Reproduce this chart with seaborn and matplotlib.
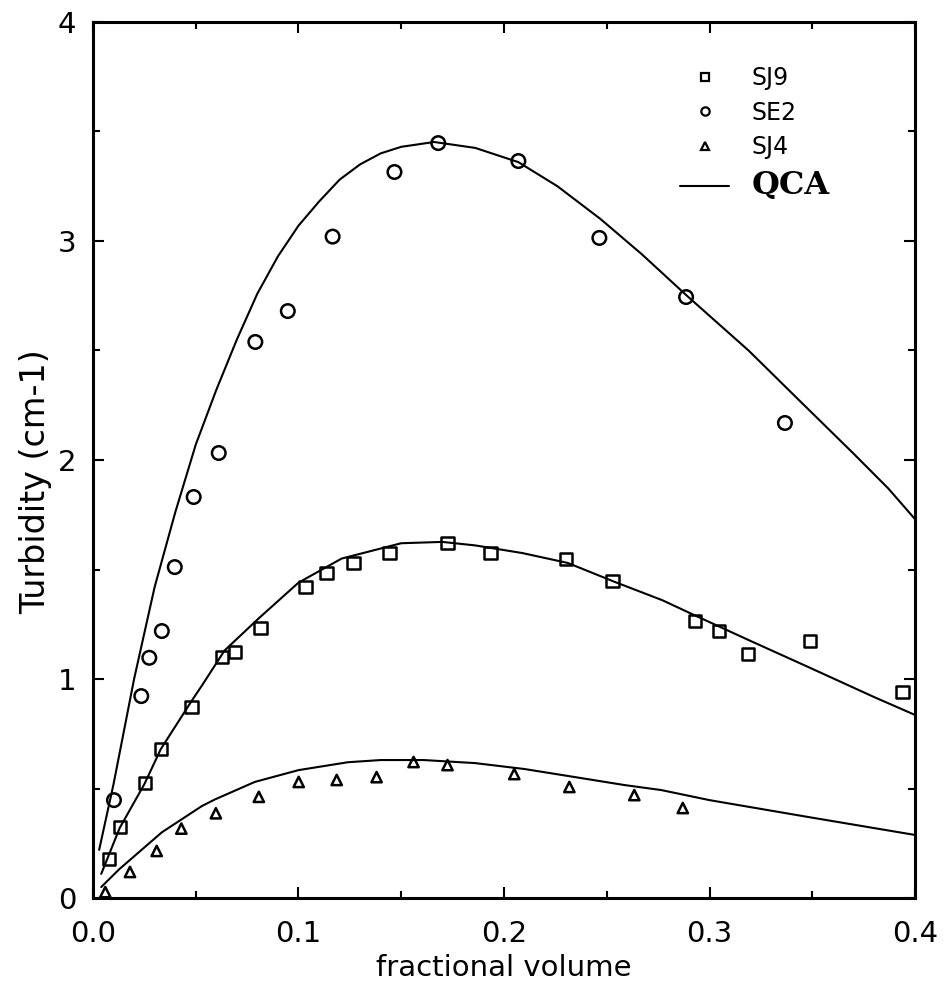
import numpy as np
import pandas as pd
import matplotlib
matplotlib.use("Agg")
import matplotlib.pyplot as plt
import seaborn as sns
from matplotlib.lines import Line2D
from matplotlib.ticker import MultipleLocator

# measured points
sj9_x = [0.0078, 0.0131, 0.0253, 0.033, 0.048, 0.0627, 0.069, 0.0816, 0.1035, 0.1137,
         0.1268, 0.1443, 0.1725, 0.1934, 0.2303, 0.2527, 0.293, 0.3047, 0.3188, 0.3489, 0.394]
sj9_y = [0.178, 0.324, 0.525, 0.68, 0.872, 1.10, 1.123, 1.233, 1.42, 1.484,
         1.53, 1.575, 1.621, 1.575, 1.548, 1.447, 1.265, 1.219, 1.114, 1.174, 0.941]

se2_x = [0.0102, 0.0235, 0.0274, 0.0335, 0.0398, 0.049, 0.0612, 0.079, 0.0948, 0.1166,
         0.1467, 0.168, 0.207, 0.2464, 0.2886, 0.3367]
se2_y = [0.447, 0.922, 1.097, 1.219, 1.511, 1.831, 2.032, 2.539, 2.68, 3.02,
         3.315, 3.447, 3.365, 3.014, 2.744, 2.169]

sj4_x = [0.006, 0.018, 0.031, 0.043, 0.0598, 0.0807, 0.1001, 0.1186, 0.138, 0.156,
         0.1725, 0.205, 0.2318, 0.2634, 0.287]
sj4_y = [0.027, 0.119, 0.215, 0.317, 0.387, 0.462, 0.53, 0.539, 0.552, 0.621,
         0.607, 0.566, 0.507, 0.47, 0.411]

# QCA curves
qca_se2_x = [0.003, 0.01, 0.02, 0.03, 0.04, 0.05, 0.06, 0.07, 0.08, 0.09, 0.10, 0.11, 0.12,
             0.13, 0.14, 0.15, 0.166, 0.186, 0.207, 0.226, 0.247, 0.267, 0.289, 0.319, 0.345,
             0.37, 0.387, 0.4]
qca_se2_y = [0.22, 0.52, 1.0, 1.42, 1.76, 2.07, 2.32, 2.55, 2.76, 2.93, 3.07, 3.18, 3.28,
             3.35, 3.40, 3.43, 3.452, 3.425, 3.36, 3.25, 3.10, 2.94, 2.75, 2.50, 2.26,
             2.03, 1.87, 1.73]

qca_sj9_x = [0.004, 0.013, 0.025, 0.033, 0.048, 0.053, 0.064, 0.081, 0.10, 0.121, 0.15, 0.17,
             0.186, 0.209, 0.231, 0.254, 0.277, 0.293, 0.319, 0.348, 0.38, 0.4]
qca_sj9_y = [0.11, 0.32, 0.52, 0.68, 0.90, 0.97, 1.13, 1.28, 1.44, 1.55, 1.62, 1.626,
             1.61, 1.575, 1.53, 1.443, 1.36, 1.29, 1.178, 1.055, 0.918, 0.836]

qca_sj4_x = [0.004, 0.0126, 0.0175, 0.0335, 0.053, 0.0593, 0.0787, 0.10, 0.124, 0.14, 0.161,
             0.186, 0.21, 0.234, 0.2585, 0.2765, 0.30, 0.348, 0.4]
qca_sj4_y = [0.05, 0.13, 0.17, 0.30, 0.42, 0.45, 0.53, 0.584, 0.62, 0.63, 0.63,
             0.616, 0.589, 0.553, 0.516, 0.493, 0.447, 0.37, 0.288]

sns.set_style("ticks")
plt.rcParams['font.family'] = ['DejaVu Sans']
plt.rcParams.update({'text.color': 'black', 'axes.labelcolor': 'black',
                     'xtick.color': 'black', 'ytick.color': 'black',
                     'axes.edgecolor': 'black'})

pts = pd.concat([
    pd.DataFrame({'x': sj9_x, 'y': sj9_y, 'sample': 'SJ9'}),
    pd.DataFrame({'x': se2_x, 'y': se2_y, 'sample': 'SE2'}),
    pd.DataFrame({'x': sj4_x, 'y': sj4_y, 'sample': 'SJ4'}),
])
curves = pd.concat([
    pd.DataFrame({'x': qca_se2_x, 'y': qca_se2_y, 'sample': 'SE2'}),
    pd.DataFrame({'x': qca_sj9_x, 'y': qca_sj9_y, 'sample': 'SJ9'}),
    pd.DataFrame({'x': qca_sj4_x, 'y': qca_sj4_y, 'sample': 'SJ4'}),
])

fig = plt.figure(figsize=(9.44, 9.9), dpi=100)
ax = fig.add_axes([0.0985, 0.0929, 0.8708, 0.8849])

for name, grp in curves.groupby('sample'):
    sns.lineplot(data=grp, x='x', y='y', color='black', lw=1.5, sort=False,
                 estimator=None, ax=ax, legend=False)

marker_map = {'SJ9': 's', 'SE2': 'o', 'SJ4': '^'}
size_map = {'SJ9': 80, 'SE2': 95, 'SJ4': 55}
for name, grp in pts.groupby('sample'):
    sns.scatterplot(data=grp, x='x', y='y', marker=marker_map[name], s=size_map[name],
                    facecolors='none', edgecolor='black', linewidth=1.8, ax=ax,
                    legend=False, zorder=3)

ax.set_xlim(0, 0.4)
ax.set_ylim(0, 4)
ax.xaxis.set_minor_locator(MultipleLocator(0.05))
ax.yaxis.set_minor_locator(MultipleLocator(0.5))
ax.set_xticks([0, 0.1, 0.2, 0.3, 0.4])
ax.set_xticklabels(['0.0', '0.1', '0.2', '0.3', '0.4'])
ax.set_yticks([0, 1, 2, 3, 4])
ax.set_yticklabels(['0', '1', '2', '3', '4'])
ax.tick_params(which='both', direction='in', top=True, right=True, width=1.5,
               labelsize=21)
ax.tick_params(which='major', length=8)
ax.tick_params(which='minor', length=5)
ax.tick_params(axis='x', pad=16)
ax.tick_params(axis='y', pad=12)
for sp in ax.spines.values():
    sp.set_linewidth(2.2)
    sp.set_visible(True)

ax.set_xlabel('fractional volume', fontsize=21, labelpad=4)
ax.set_ylabel('Turbidity (cm-1)', fontsize=24)
ax.yaxis.set_label_coords(-0.05, 0.475)

handles = [
    Line2D([], [], marker='s', ls='none', mfc='none', mec='black', ms=6, mew=1.6),
    Line2D([], [], marker='o', ls='none', mfc='none', mec='black', ms=6, mew=1.6),
    Line2D([], [], marker='^', ls='none', mfc='none', mec='black', ms=6, mew=1.6),
    Line2D([], [], color='black', lw=1.5),
]
leg = ax.legend(handles, ['SJ9', 'SE2', 'SJ4', 'QCA'], loc='upper left',
                bbox_to_anchor=(0.688, 0.974), frameon=False, fontsize=17,
                handlelength=2.1, handletextpad=0.93, labelspacing=0.45)
qca = leg.get_texts()[3]
qca.set_fontfamily('DejaVu Serif')
qca.set_fontweight('bold')
qca.set_fontsize(23)

fig.savefig('out.png', dpi=100)
